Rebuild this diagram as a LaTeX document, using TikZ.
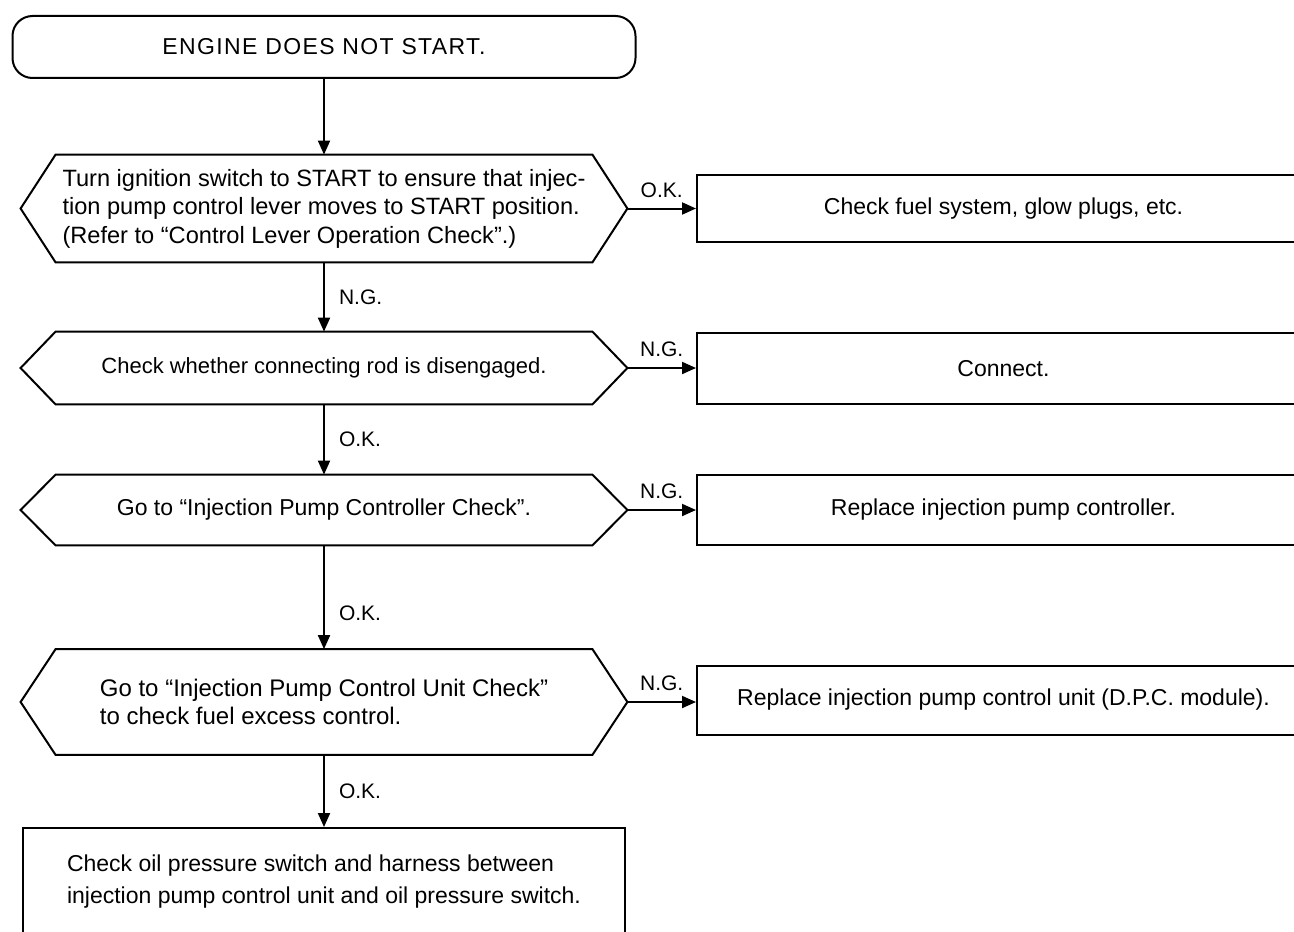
\documentclass[tikz,border=0pt]{standalone}
\usepackage{fontspec}
\setmainfont{Liberation Sans}
\usetikzlibrary{arrows.meta,positioning,calc}

\tikzset{
  flowline/.style={line width=1pt, -{Triangle[length=7pt,width=6pt]}},
  termbox/.style={draw, line width=1pt, rounded corners=10pt, minimum width=311.5pt, minimum height=31pt},
  checkbox/.style={minimum width=303pt, inner sep=0pt, align=left},
  actbox/.style={draw, line width=1pt, minimum width=306.5pt, inner sep=0pt},
  answer/.style={font=\fontsize{10.5}{12}\selectfont, inner sep=1pt},
}
% hexagonal outline around a check node
\newcommand{\hexframe}[1]{\draw[line width=1pt] (#1.west) -- ([xshift=17.5pt]#1.north west) -- ([xshift=-17.5pt]#1.north east) -- (#1.east) -- ([xshift=-17.5pt]#1.south east) -- ([xshift=17.5pt]#1.south west) -- cycle;}

\begin{document}
\begin{tikzpicture}[x=0.5pt, y=-0.5pt, font=\fontsize{11.5}{14.2}\selectfont, >=Stealth]
    \useasboundingbox (0,0) rectangle (1294,931);
    \clip (0,0) rectangle (1294,931);
    \node[termbox] (start) at (324,47) {\addfontfeatures{LetterSpace=6}ENGINE DOES NOT START.};
    \node[checkbox, minimum height=53.5pt, font=\fontsize{11.8}{14.3}\selectfont] (lever) at (324,208.5) {Turn ignition switch to START to ensure that injec-\\tion pump control lever moves to START position.\\(Refer to ``Control Lever Operation Check''.)};
    \node[checkbox, minimum height=36pt, font=\fontsize{11}{14}\selectfont] (rod) at (324,368) {Check whether connecting rod is disengaged.};
    \node[checkbox, minimum height=35pt] (ctrl) at (324,510) {Go to ``Injection Pump Controller Check''.};
    \node[checkbox, minimum height=52.5pt, font=\fontsize{12}{14}\selectfont] (unit) at (324,702) {Go to ``Injection Pump Control Unit Check''\\to check fuel excess control.};
    \node[draw, line width=1pt, minimum width=301pt, minimum height=54pt, align=left, font=\fontsize{11.5}{16}\selectfont] (harness) at (324,882) {Check oil pressure switch and harness between\\injection pump control unit and oil pressure switch.};
    \foreach \h in {lever,rod,ctrl,unit} {
        \hexframe{\h}
    }
    \draw[flowline] (start.south) -- (lever.north);
    \draw[flowline] (lever.south) -- (rod.north) node[answer, midway, right=6pt] {N.G.};
    \draw[flowline] (rod.south) -- (ctrl.north) node[answer, midway, right=6pt] {O.K.};
    \draw[flowline] (ctrl.south) -- (unit.north) node[answer, pos=0.65, right=6pt] {O.K.};
    \draw[flowline] (unit.south) -- (harness.north) node[answer, midway, right=6pt] {O.K.};
    \foreach \src/\y/\h/\res/\txt in {
        lever/208.5/33.5pt/O.K./{Check fuel system, glow plugs, etc.},
        rod/368.5/35.5pt/N.G./{Connect.},
        ctrl/510/35pt/N.G./{Replace injection pump controller.},
        unit/700/34.5pt/N.G./{Replace injection pump control unit (D.P.C. module).}} {
        \node[actbox, minimum height=\h] (fix-\src) at (1003.5,\y) {\txt};
        \draw[flowline] (\src.east) -- (\src.east -| fix-\src.west) node[answer, midway, above=4pt] {\res};
    }
\end{tikzpicture}
\end{document}
